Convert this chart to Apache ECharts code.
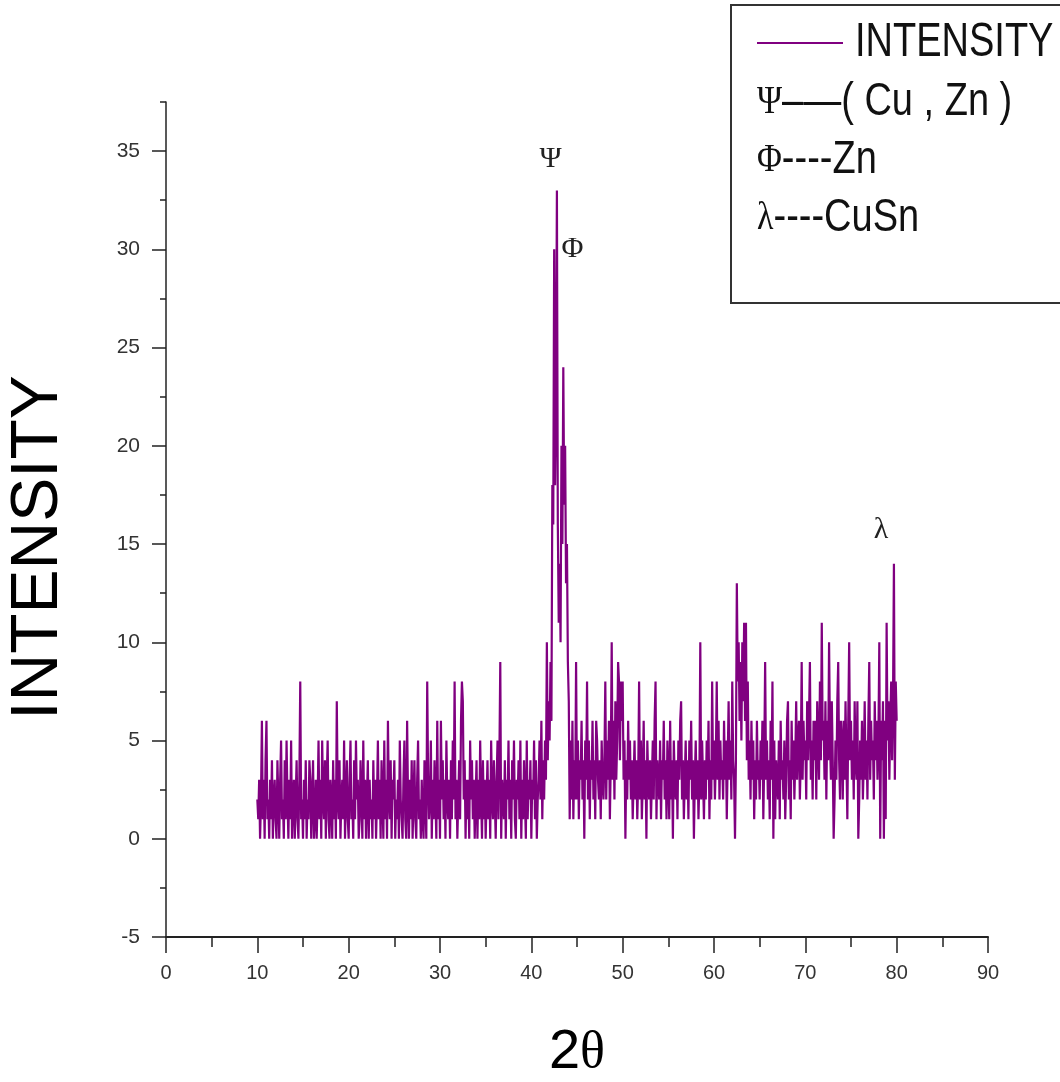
<!DOCTYPE html>
<html>
<head>
<meta charset="utf-8">
<title>XRD pattern</title>
<script src="https://cdn.jsdelivr.net/npm/echarts@6/dist/echarts.min.js"></script>
<style>
  html, body { margin: 0; padding: 0; background: #fff; }
  #chart { width: 1060px; height: 1082px; }
</style>
</head>
<body>
<div id="chart"></div>
<script>
// scan grid: 2theta from 10 to 80 deg, step 0.1
var scanStart = 10;
var scanStep = 0.1;

// counts, one row per degree (x.0 .. x.9)
var countsLowAngle = [
  2,1,3,0,2,6,1,3,0,4,  // 10
  6,1,2,0,3,1,4,0,2,3,  // 11
  1,0,4,2,0,3,5,1,2,0,  // 12
  4,1,5,2,0,3,1,5,0,2,  // 13
  3,0,2,4,1,0,3,8,1,2,  // 14
  0,3,1,4,0,2,1,4,3,0,  // 15
  2,4,0,1,3,0,2,5,1,3,  // 16
  0,5,2,1,4,0,3,5,1,0,  // 17
  3,2,0,4,1,3,0,7,2,1,  // 18
  4,0,2,3,1,5,0,2,4,1,  // 19
  0,3,5,1,2,0,4,1,5,2,  // 20
  3,0,1,4,2,0,5,1,3,0,  // 21
  2,4,0,3,1,2,0,4,1,3,  // 22
  0,2,5,1,3,0,4,2,0,5,  // 23
  1,3,0,6,2,1,4,0,3,2,  // 24
  4,0,2,1,3,0,5,2,1,0,  // 25
  3,5,1,0,6,2,0,3,1,4,  // 26
  0,2,4,1,0,3,5,1,2,0,  // 27
  3,1,0,4,2,0,8,3,1,2,  // 28
  5,0,3,1,4,2,0,6,1,3,  // 29
  0,6,2,4,1,3,0,5,2,1,  // 30
  3,0,4,1,5,2,8,1,3,0,  // 31
  2,4,1,6,8,7,2,4,0,3,  // 32
  1,3,0,5,2,4,1,3,0,2,  // 33
  4,0,3,1,5,2,0,4,1,3,  // 34
  0,2,4,1,3,0,5,2,1,4,  // 35
  2,0,3,5,1,4,9,0,3,2,  // 36
  1,4,0,3,2,5,1,3,0,4,  // 37
  2,5,1,0,3,2,4,1,5,0,  // 38
  3,1,4,2,0,5,1,3,2,4,  // 39
  0,3,2,5,1,4,0,2,3,5   // 40
];
var countsPeak = [
  2,6,1,4,2,5,3,10,4,7,        // 41
  5,9,6,18,16,30,18,22,33,16,  // 42
  11,14,10,20,15,24,17,20,13,15, // 43
  9,7,1,5,2,6,1,4,2,9          // 44
];
var countsHighAngle = [
  2,5,1,4,3,6,2,4,0,5,  // 45
  3,8,2,5,1,4,3,6,2,4,  // 46
  1,6,5,3,2,4,1,5,3,2,  // 47
  4,8,2,5,3,6,1,4,10,3, // 48
  6,2,7,3,5,9,8,4,8,6,  // 49
  8,3,5,0,4,2,6,3,5,2,  // 50
  4,1,3,5,2,4,1,3,8,2,  // 51
  5,1,3,6,2,4,0,5,3,2,  // 52
  4,1,3,5,2,6,8,1,4,3,  // 53
  2,5,1,4,3,6,2,4,1,5,  // 54
  3,1,6,2,4,0,5,3,2,4,  // 55
  1,5,3,6,7,2,4,1,3,5,  // 56
  2,4,1,5,3,6,2,4,0,3,  // 57
  5,2,4,1,3,10,2,5,3,1, // 58
  4,2,5,3,6,1,4,2,8,3,  // 59
  5,2,4,8,3,6,2,5,3,4,  // 60
  2,6,3,5,1,4,7,3,5,2,  // 61
  8,4,3,0,4,13,8,10,6,9, // 62
  5,10,7,11,6,11,4,8,3,5, // 63
  2,6,3,5,1,4,2,6,3,4,  // 64
  2,5,3,6,1,4,9,3,5,2,  // 65
  4,1,6,3,8,0,5,1,4,3,  // 66
  2,5,1,6,3,4,2,5,1,3,  // 67
  6,7,2,4,1,6,3,5,2,4,  // 68
  7,3,5,6,2,4,9,3,6,4,  // 69
  5,2,7,4,6,9,3,5,2,6,  // 70
  4,6,2,7,5,3,8,4,11,5, // 71
  6,3,7,2,6,4,10,5,3,7, // 72
  4,0,2,5,3,7,9,4,2,6,  // 73
  5,2,6,3,7,4,1,6,10,4, // 74
  6,3,5,2,7,4,3,7,0,2,  // 75
  5,3,6,2,4,7,3,5,2,6,  // 76
  9,3,6,4,5,2,7,4,6,3,  // 77
  5,10,0,6,4,7,0,6,1,11, // 78
  5,7,3,6,8,4,7,14,3,8, // 79
  6                     // 80
];

var yTickValues = [-5, 0, 5, 10, 15, 20, 25, 30, 35];

// peak markers [2theta, intensity, symbol]
var peakLabels = [
  [42.1, 34.6, 'Ψ'],
  [44.5, 30.0, 'Φ'],
  [78.3, 15.7, 'λ']
];

var legendLines = [
  '{s|Ψ}–—( Cu , Zn )',
  '{s|Φ}----Zn',
  '{s|λ}----CuSn'
];

var counts = countsLowAngle.concat(countsPeak, countsHighAngle);
var seriesData = counts.map(function (v, i) {
  return [+(scanStart + i * scanStep).toFixed(1), v];
});

var chart = echarts.init(document.getElementById('chart'));

var axisColor = '#222';
var labelStyle = {
  color: '#333',
  fontSize: 20,
  fontFamily: 'Liberation Sans, Arial, sans-serif'
};

var legendTexts = [{
  type: 'text',
  x: 855, y: 43, scaleY: 1.25,
  style: {
    text: 'INTENSITY', fill: '#111', fontSize: 38,
    fontFamily: 'Liberation Sans, Arial, sans-serif',
    verticalAlign: 'middle', align: 'left'
  }
}];
legendLines.forEach(function (t, i) {
  legendTexts.push({
    type: 'text',
    x: 757, y: 102 + i * 58, scaleY: 1.2,
    style: {
      text: t, fill: '#111', fontSize: 38,
      fontFamily: 'Liberation Sans, Arial, sans-serif',
      verticalAlign: 'middle', align: 'left',
      rich: {
        s: { fontFamily: 'Liberation Serif, Times New Roman, serif', fontSize: 34, fill: '#111' }
      }
    }
  });
});

var option = {
  backgroundColor: '#fff',
  animation: false,
  grid: { left: 166, right: 72, top: 102, bottom: 145, outerBoundsMode: 'none', containLabel: false },
  xAxis: {
    type: 'value',
    min: 0,
    max: 90,
    interval: 10,
    name: '{a|2}{b|θ}',
    nameLocation: 'middle',
    nameGap: 88,
    nameTextStyle: {
      rich: {
        a: { fontSize: 56, color: '#000', fontFamily: 'Liberation Sans, Arial, sans-serif' },
        b: { fontSize: 52, color: '#000', fontFamily: 'Liberation Serif, Times New Roman, serif' }
      }
    },
    axisLine: { show: true, onZero: false, lineStyle: { color: axisColor, width: 2 } },
    axisTick: { show: true, length: 16, lineStyle: { color: axisColor, width: 1.5 } },
    minorTick: { show: true, splitNumber: 2, length: 10, lineStyle: { color: axisColor, width: 1.5 } },
    axisLabel: Object.assign({ margin: 26 }, labelStyle),
    splitLine: { show: false }
  },
  yAxis: [{
    type: 'value',
    min: -5,
    max: 37.5,
    position: 'left',
    name: 'INTENSITY',
    nameLocation: 'middle',
    nameRotate: 90,
    nameGap: 94,
    nameTextStyle: {
      fontSize: 66, color: '#000',
      fontFamily: 'Liberation Sans, Arial, sans-serif',
      padding: [0, 56, 0, 0]
    },
    axisLine: { show: true, onZero: false, lineStyle: { color: axisColor, width: 1.5 } },
    axisTick: { show: true, length: 14, customValues: yTickValues, lineStyle: { color: axisColor, width: 1.5 } },
    axisLabel: Object.assign({ margin: 26, customValues: yTickValues }, labelStyle, { fontSize: 21 }),
    splitLine: { show: false }
  }, {
    // minor ticks every 2.5
    type: 'value',
    min: -5,
    max: 37.5,
    interval: 2.5,
    position: 'left',
    axisLine: { show: false },
    axisTick: { show: true, length: 6, lineStyle: { color: axisColor, width: 1.5 } },
    axisLabel: { show: false },
    splitLine: { show: false }
  }],
  series: [{
    name: 'INTENSITY',
    type: 'line',
    yAxisIndex: 0,
    data: seriesData,
    showSymbol: false,
    symbol: 'none',
    sampling: false,
    lineStyle: { color: '#800080', width: 2.2 },
    itemStyle: { color: '#800080' },
    markPoint: {
      symbol: 'circle',
      symbolSize: 0,
      label: {
        show: true,
        position: 'inside',
        formatter: '{b}',
        color: '#222',
        fontSize: 30,
        fontFamily: 'Liberation Serif, Times New Roman, serif'
      },
      data: peakLabels.map(function (p) {
        return { name: p[2], coord: [p[0], p[1]] };
      })
    }
  }],
  graphic: [{
    type: 'rect',
    shape: { x: 731, y: 5, width: 345, height: 298 },
    style: { fill: '#fff', stroke: '#333', lineWidth: 2 },
    z: 10
  }, {
    type: 'line',
    shape: { x1: 757, y1: 43, x2: 843, y2: 43 },
    style: { stroke: '#800080', lineWidth: 2 },
    z: 11
  }].concat(legendTexts.map(function (t) { t.z = 11; return t; }))
};

chart.setOption(option);
</script>
</body>
</html>
